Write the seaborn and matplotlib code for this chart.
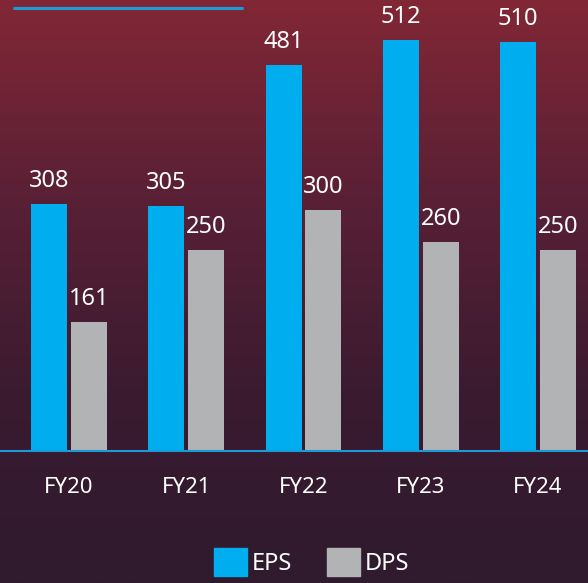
import numpy as np
import pandas as pd
import matplotlib.pyplot as plt
from matplotlib.lines import Line2D
from matplotlib.patches import Patch
from matplotlib.colors import LinearSegmentedColormap
import seaborn as sns

years = ["FY20", "FY21", "FY22", "FY23", "FY24"]
eps = [308, 305, 481, 512, 510]
dps = [161, 250, 300, 260, 250]

BLUE = "#00aeef"
GREY = "#b1b3b4"

df = pd.DataFrame({
    "year": years * 2,
    "value": eps + dps,
    "metric": ["EPS"] * len(years) + ["DPS"] * len(years),
})

sns.set_theme(style="white")
plt.rcParams["font.family"] = ["Noto Sans", "DejaVu Sans"]

fig = plt.figure(figsize=(5.88, 5.83), dpi=100)

# gradient background
bg = fig.add_axes([0, 0, 1, 1], zorder=0)
cmap = LinearSegmentedColormap.from_list("bg", ["#822735", "#5a2036", "#3b1b30", "#2f1a2e"])
bg.imshow(np.linspace(0, 1, 256).reshape(-1, 1), aspect="auto", cmap=cmap,
          extent=[0, 1, 0, 1])
bg.axis("off")

ax = fig.add_axes([0, 0.2264, 1, 0.7736], zorder=1)
ax.patch.set_alpha(0)
sns.barplot(data=df, x="year", y="value", hue="metric",
            palette={"EPS": BLUE, "DPS": GREY}, width=0.68, gap=0.1,
            legend=False, ax=ax, saturation=1, linewidth=0, edgecolor="none")

for c in ax.containers:
    ax.bar_label(c, padding=8, color="white", fontsize=17)

ax.set_ylim(0, 562)
ax.set_xlim(-0.588, 4.426)
ax.set_xlabel("")
ax.set_ylabel("")
ax.set_yticks([])
for s in ["top", "left", "right"]:
    ax.spines[s].set_visible(False)
ax.spines["bottom"].set_color("#1a9ad6")
ax.spines["bottom"].set_linewidth(1.5)
ax.tick_params(axis="x", length=0, pad=19, labelsize=16, labelcolor="white")

# small accent line top left
fig.add_artist(Line2D([14 / 588, 242 / 588], [1 - 8 / 583] * 2,
                      color="#1a9ad6", lw=2.2))

handles = [Patch(color=BLUE, label="EPS"), Patch(color=GREY, label="DPS")]
leg = fig.legend(handles=handles, loc="lower center", ncol=2, frameon=False,
                 bbox_to_anchor=(0.53, -0.025), fontsize=17, handlelength=1.4,
                 handleheight=1.5, handletextpad=0.2, columnspacing=1.5)
for t in leg.get_texts():
    t.set_color("white")

fig.savefig("out.png", dpi=100)
